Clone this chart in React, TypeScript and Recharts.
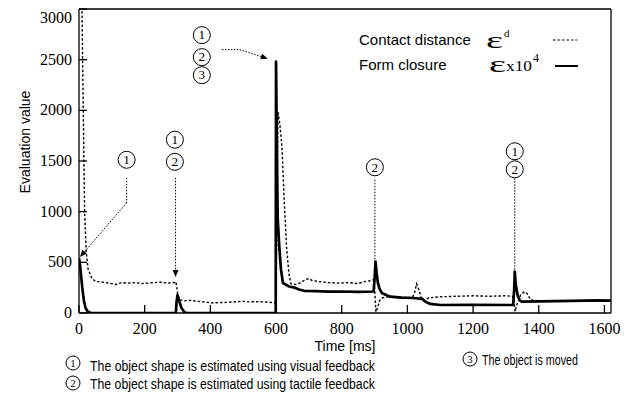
import React from 'react';
import { LineChart, Line, XAxis, YAxis, ReferenceLine, ReferenceDot } from 'recharts';

// time [ms], value
const contactDistance: [number, number][] = [
  [0, 3600], [9, 3000], [13, 2000], [17, 1000], [22, 600], [28, 430], [38, 350], [50, 310],
  [60, 310], [80, 300], [100, 290], [110, 280], [130, 300], [150, 295], [170, 300], [190, 290],
  [210, 295], [230, 300], [250, 305], [270, 295], [290, 300], [295, 310], [298, 250], [302, 150],
  [307, 130], [320, 120], [340, 125], [360, 115], [380, 110], [400, 100], [450, 105], [500, 115],
  [520, 110], [550, 112], [580, 105], [598, 100], [600, 100], [603, 1100], [606, 1986], [612, 1850],
  [618, 1640], [625, 1100], [632, 650], [639, 395], [645, 290], [660, 280], [675, 300], [688, 326],
  [700, 340], [710, 320], [730, 310], [760, 300], [790, 295], [820, 300], [850, 290], [870, 310],
  [890, 320], [898, 330], [901, 200], [904, 10], [910, 60], [915, 120], [922, 148], [940, 160],
  [960, 165], [990, 155], [1015, 150], [1022, 200], [1028, 287], [1035, 230], [1042, 150], [1050, 120],
  [1065, 150], [1100, 160], [1150, 165], [1200, 170], [1250, 165], [1300, 170], [1320, 165], [1325, 100],
  [1328, 15], [1333, 80], [1345, 180], [1357, 210], [1365, 190], [1375, 130], [1400, 120], [1450, 115],
  [1500, 115], [1550, 120], [1600, 120], [1620, 118],
];

const formClosure: [number, number][] = [
  [0, 540], [3, 480], [6, 380], [10, 250], [15, 120], [20, 50], [27, 12], [35, 2], [60, 0],
  [295, 0], [297, 110], [300, 178], [305, 120], [312, 50], [322, 5], [330, 0], [599, 0],
  [600, 2480], [603, 1500], [605, 940], [610, 650], [615, 430], [621, 296], [640, 262], [657, 250],
  [670, 232], [688, 217], [720, 215], [760, 210], [800, 212], [850, 208], [897, 212], [900, 330],
  [903, 507], [906, 400], [910, 300], [915, 240], [922, 198], [947, 161], [980, 152], [1017, 148],
  [1045, 140], [1055, 110], [1070, 90], [1100, 79], [1200, 80], [1322, 79], [1325, 220], [1327, 408],
  [1330, 280], [1336, 170], [1342, 125], [1348, 112], [1400, 115], [1500, 120], [1580, 125], [1620, 122],
];

const xTicks = [0, 200, 400, 600, 800, 1000, 1200, 1400, 1600];
const yTicks = [0, 500, 1000, 1500, 2000, 2500, 3000];

// circled event markers: label, time, value
const markers: [string, number, number][] = [
  ['1', 145, 1512],
  ['1', 292, 1710], ['2', 292, 1492],
  ['1', 374, 2742], ['2', 374, 2525], ['3', 374, 2347],
  ['2', 901, 1438],
  ['1', 1327, 1596], ['2', 1327, 1418],
];

// dotted leader segments: [t1, v1, t2, v2, arrowhead]
const leaders: [number, number, number, number, boolean][] = [
  [145, 1334, 145, 1087, false],
  [145, 1087, 3, 553, true],
  [294, 1334, 294, 356, true],
  [435, 2599, 490, 2599, false],
  [490, 2599, 575, 2510, true],
  [901, 1314, 901, 504, false],
  [1327, 1330, 1327, 400, false],
];

const footnotes = [
  'The object shape is estimated using visual feedback',
  'The object shape is estimated using tactile feedback',
  'The object is moved',
];

const serif = '"Liberation Serif", "Times New Roman", "DejaVu Serif", serif';
const sans = '"Liberation Sans", Arial, sans-serif';

const toRows = (pts: [number, number][]) => pts.map(([t, v]) => ({ t, v }));

const BottomTick = (props: any) => {
  const { x, y, payload } = props;
  return (
    <g>
      <line x1={x} x2={x} y1={y} y2={y - 8} stroke="#000" strokeWidth={1.3} />
      <text x={x} y={y + 21} textAnchor="middle" style={{ fontFamily: serif, fontSize: 16 }} fill="#000">
        {payload.value}
      </text>
    </g>
  );
};

const TopTick = (props: any) => {
  const { x, y } = props;
  return <line x1={x} x2={x} y1={y} y2={y + 7} stroke="#000" strokeWidth={1.3} />;
};

const LeftTick = (props: any) => {
  const { x, y, payload } = props;
  const dy = payload.value === 3000 ? 9 : 0;
  return (
    <g>
      <line x1={x} x2={x + 8} y1={y} y2={y} stroke="#000" strokeWidth={1.3} />
      <text x={x - 7} y={y + 5 + dy} textAnchor="end" style={{ fontFamily: serif, fontSize: 16 }} fill="#000">
        {payload.value}
      </text>
    </g>
  );
};

const RightTick = (props: any) => {
  const { x, y } = props;
  return <line x1={x} x2={x - 7} y1={y} y2={y} stroke="#000" strokeWidth={1.3} />;
};

const Circled = ({ cx, cy, n, r = 8.5 }: { cx: number; cy: number; n: string; r?: number }) => (
  <g>
    <circle cx={cx} cy={cy} r={r} fill="#fff" stroke="#000" strokeWidth={1} />
    <text
      x={cx}
      y={cy + r * 0.5}
      textAnchor="middle"
      style={{ fontFamily: serif, fontSize: r * 1.55 }}
      fill="#000"
    >
      {n}
    </text>
  </g>
);

const leaderShape = (head: boolean) => (p: any) => {
  const { x1, y1, x2, y2 } = p;
  const a = Math.atan2(y2 - y1, x2 - x1);
  const L = 7;
  const W = 3;
  const bx = x2 - L * Math.cos(a);
  const by = y2 - L * Math.sin(a);
  const nx = -Math.sin(a) * W;
  const ny = Math.cos(a) * W;
  return (
    <g>
      <line x1={x1} y1={y1} x2={head ? bx : x2} y2={head ? by : y2} stroke="#000" strokeWidth={1} strokeDasharray="1.5 1.5" />
      {head && <polygon points={`${x2},${y2} ${bx + nx},${by + ny} ${bx - nx},${by - ny}`} fill="#000" />}
    </g>
  );
};

export default function App() {
  return (
    <div style={{ position: 'absolute', left: 0, top: 0, width: 632, height: 394, background: '#fff' }}>
      <LineChart width={632} height={394} margin={{ top: 8, right: 0, bottom: 0, left: 0 }}>
        <XAxis
          dataKey="t"
          type="number"
          domain={[0, 1620]}
          ticks={xTicks}
          interval={0}
          allowDataOverflow
          height={81}
          tickLine={false}
          tickSize={0}
          tickMargin={0}
          tick={<BottomTick />}
          axisLine={{ stroke: '#000', strokeWidth: 1.3 }}
        />
        <XAxis
          xAxisId="top"
          orientation="top"
          type="number"
          domain={[0, 1620]}
          ticks={xTicks}
          interval={0}
          height={1}
          tickLine={false}
          tickSize={0}
          tickMargin={0}
          tick={<TopTick />}
          axisLine={{ stroke: '#000', strokeWidth: 1.3 }}
        />
        <YAxis
          type="number"
          domain={[0, 3000]}
          ticks={yTicks}
          interval={0}
          allowDataOverflow
          width={79}
          tickLine={false}
          tickSize={0}
          tickMargin={0}
          tick={<LeftTick />}
          axisLine={{ stroke: '#000', strokeWidth: 1.3 }}
        />
        <YAxis
          yAxisId="right"
          orientation="right"
          type="number"
          domain={[0, 3000]}
          ticks={yTicks}
          interval={0}
          width={21}
          tickLine={false}
          tickSize={0}
          tickMargin={0}
          tick={<RightTick />}
          axisLine={{ stroke: '#000', strokeWidth: 1.3 }}
        />
        <Line
          data={toRows(contactDistance)}
          dataKey="v"
          type="linear"
          stroke="#000"
          strokeWidth={1.4}
          strokeDasharray="2.5 2"
          dot={false}
          isAnimationActive={false}
        />
        <Line
          data={toRows(formClosure)}
          dataKey="v"
          type="linear"
          stroke="#000"
          strokeWidth={2.7}
          strokeLinejoin="round"
          dot={false}
          isAnimationActive={false}
        />
        {leaders.map(([t1, v1, t2, v2, head], i) => (
          <ReferenceLine
            key={`l${i}`}
            segment={[{ x: t1, y: v1 }, { x: t2, y: v2 }]}
            ifOverflow="visible"
            shape={leaderShape(head)}
          />
        ))}
        {markers.map(([n, t, v], i) => (
          <ReferenceDot
            key={`m${i}`}
            x={t}
            y={v}
            r={8}
            ifOverflow="visible"
            shape={(p: any) => <Circled cx={p.cx} cy={p.cy} n={n} />}
          />
        ))}
      </LineChart>
      <svg width={632} height={394} style={{ position: 'absolute', left: 0, top: 0, pointerEvents: 'none' }}>
        <text transform="translate(30,142) rotate(-90)" textAnchor="middle" style={{ fontFamily: sans, fontSize: 14 }} fill="#000">
          Evaluation value
        </text>
        <text x={345} y={351} textAnchor="middle" style={{ fontFamily: sans, fontSize: 14 }} fill="#000">
          Time [ms]
        </text>
        <text x={359} y={45} style={{ fontFamily: sans, fontSize: 15 }} fill="#000">Contact distance</text>
        <text x={486} y={48} textLength={17} lengthAdjust="spacingAndGlyphs" style={{ fontFamily: serif, fontSize: 24 }} fill="#000">ε</text>
        <text x={504} y={37} style={{ fontFamily: serif, fontSize: 11 }} fill="#000">d</text>
        <line x1={553} x2={577} y1={40} y2={40} stroke="#000" strokeWidth={1} strokeDasharray="2.5 2" />
        <text x={359} y={70} style={{ fontFamily: sans, fontSize: 15 }} fill="#000">Form closure</text>
        <text x={489} y={72} textLength={17} lengthAdjust="spacingAndGlyphs" style={{ fontFamily: serif, fontSize: 24 }} fill="#000">ε</text>
        <text x={506} y={71} textLength={26} lengthAdjust="spacingAndGlyphs" style={{ fontFamily: serif, fontSize: 14 }} fill="#000">x10</text>
        <text x={533} y={62} style={{ fontFamily: serif, fontSize: 12 }} fill="#000">4</text>
        <line x1={555} x2={578} y1={66} y2={66} stroke="#000" strokeWidth={2} />
        <Circled cx={73} cy={363} n="1" r={7} />
        <text x={90} y={371} textLength={285} lengthAdjust="spacingAndGlyphs" style={{ fontFamily: sans, fontSize: 15 }} fill="#000">
          {footnotes[0]}
        </text>
        <Circled cx={73} cy={383} n="2" r={7} />
        <text x={90} y={389} textLength={285} lengthAdjust="spacingAndGlyphs" style={{ fontFamily: sans, fontSize: 15 }} fill="#000">
          {footnotes[1]}
        </text>
        <Circled cx={470} cy={359} n="3" r={7} />
        <text x={482} y={365} textLength={96} lengthAdjust="spacingAndGlyphs" style={{ fontFamily: sans, fontSize: 15 }} fill="#000">
          {footnotes[2]}
        </text>
      </svg>
    </div>
  );
}
